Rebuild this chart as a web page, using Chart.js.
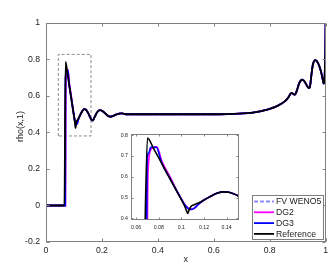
<!DOCTYPE html>
<html><head><meta charset="utf-8">
<script src="https://cdn.jsdelivr.net/npm/chart.js@4.4.1/dist/chart.umd.min.js"></script>
<style>
html,body{margin:0;padding:0;background:#fff;}
#wrap{position:relative;width:331px;height:267px;overflow:hidden;}
#main{position:absolute;left:0;top:0;}
#inset{position:absolute;left:106px;top:126px;}
</style></head><body>
<div id="wrap"><canvas id="main" width="331" height="267"></canvas><canvas id="inset" width="140" height="110"></canvas></div>
<script>
// ---- data ----
const seriesNames = ['FV WENO5', 'DG2', 'DG3', 'Reference'];
const xLeft = [0, 0.06];
const yLeft = [0, 0];
const refJumpX = [0.066, 0.070, 0.075, 0.080, 0.085, 0.090, 0.095, 0.100, 0.103, 0.1045, 0.1057, 0.1068, 0.1085, 0.1115, 0.115, 0.119];
const refJumpY = [0, 0.787, 0.741, 0.691, 0.640, 0.590, 0.540, 0.490, 0.459, 0.438, 0.424, 0.440, 0.457, 0.466, 0.474, 0.485];
const dg3JumpX = [0.0688, 0.0697, 0.0712, 0.0729, 0.0779, 0.0825, 0.090, 0.095, 0.100, 0.103, 0.106, 0.109, 0.112, 0.115, 0.119];
const dg3JumpY = [0, 0.69, 0.715, 0.742, 0.742, 0.668, 0.592, 0.542, 0.493, 0.466, 0.448, 0.443, 0.451, 0.468, 0.485];
const dg2JumpX = [0.0692, 0.0705, 0.0735, 0.0782, 0.0830, 0.091, 0.095, 0.100, 0.103, 0.106, 0.109, 0.112, 0.115, 0.119];
const dg2JumpY = [0, 0.625, 0.735, 0.745, 0.672, 0.590, 0.543, 0.494, 0.467, 0.449, 0.444, 0.452, 0.468, 0.485];
const fvJumpX = [0.0685, 0.0698, 0.0715, 0.0735, 0.078, 0.0825, 0.090, 0.095, 0.100, 0.103, 0.106, 0.109, 0.112, 0.115, 0.119];
const fvJumpY = [0, 0.66, 0.72, 0.738, 0.74, 0.668, 0.592, 0.542, 0.493, 0.466, 0.45, 0.446, 0.453, 0.468, 0.485];
const tailX = [0.123, 0.1278, 0.132, 0.137, 0.142, 0.147, 0.151, 0.156, 0.161, 0.165, 0.169, 0.175, 0.182, 0.188, 0.195, 0.203, 0.211, 0.22, 0.226, 0.232, 0.24, 0.2525, 0.262, 0.27, 0.28, 0.29, 0.32, 0.45, 0.6, 0.65, 0.69, 0.72, 0.74, 0.76, 0.78, 0.80, 0.82, 0.84, 0.855, 0.866, 0.872, 0.878, 0.884, 0.89, 0.897, 0.904, 0.911, 0.917, 0.923, 0.93, 0.936, 0.941, 0.945, 0.95, 0.955, 0.96, 0.964, 0.969, 0.976, 0.982, 0.988, 0.993, 0.997, 0.999, 1.0];
const tailY = [0.498, 0.512, 0.522, 0.528, 0.526, 0.517, 0.506, 0.490, 0.474, 0.466, 0.469, 0.488, 0.509, 0.52, 0.523, 0.516, 0.506, 0.493, 0.488, 0.487, 0.491, 0.499, 0.504, 0.505, 0.502, 0.5, 0.5, 0.5, 0.5, 0.501, 0.503, 0.506, 0.509, 0.514, 0.521, 0.53, 0.54, 0.556, 0.572, 0.59, 0.606, 0.617, 0.612, 0.607, 0.628, 0.664, 0.684, 0.69, 0.683, 0.666, 0.65, 0.643, 0.66, 0.725, 0.775, 0.793, 0.797, 0.79, 0.77, 0.742, 0.705, 0.668, 0.72, 0.85, 1.0];
const zoomBoxX = [0.044, 0.161];
const zoomBoxY = [0.381, 0.828];
const xTicksMain = [0, 0.2, 0.4, 0.6, 0.8, 1];
const yTicksMain = [-0.2, 0, 0.2, 0.4, 0.6, 0.8, 1];
const xTicksInset = [0.06, 0.08, 0.1, 0.12, 0.14];
const yTicksInset = [0.4, 0.5, 0.6, 0.7, 0.8];
const xTitle = 'x';
const yTitle = 'rho(x,1)';

// ---- build ----
function pts(jx, jy) {
  const a = xLeft.map((x, i) => ({x, y: yLeft[i]}));
  const b = jx.map((x, i) => ({x, y: jy[i]}));
  const c = tailX.map((x, i) => ({x, y: tailY[i]}));
  return a.concat(b, c);
}
const colors = {'FV WENO5': '#8c8cff', 'DG2': '#ff00ff', 'DG3': '#0000ff', 'Reference': '#000000'};
const dashes = {'FV WENO5': [4, 2], 'DG2': [], 'DG3': [], 'Reference': []};
const jumps = {'FV WENO5': [fvJumpX, fvJumpY], 'DG2': [dg2JumpX, dg2JumpY], 'DG3': [dg3JumpX, dg3JumpY], 'Reference': [refJumpX, refJumpY]};

function makeDatasets(w) {
  // first dataset is drawn on top in Chart.js, so list reversed
  return seriesNames.slice().reverse().map(n => ({
    label: n, data: pts(jumps[n][0], jumps[n][1]),
    borderColor: colors[n], borderDash: dashes[n], borderWidth: w,
    pointRadius: 0, fill: false, cubicInterpolationMode: 'monotone'
  }));
}

const FONT = 'Liberation Sans, Arial, Helvetica, sans-serif';
const frameTicks = {
  id: 'frameTicks',
  beforeDatasetsDraw(chart, args, o) {
    const {ctx, chartArea: a} = chart;
    ctx.save(); ctx.fillStyle = '#fff';
    ctx.fillRect(a.left, a.top, a.right - a.left, a.bottom - a.top);
    ctx.restore();
  },
  afterDatasetsDraw(chart, args, o) {
    const {ctx, chartArea: a, scales: {x, y}} = chart;
    ctx.save();
    ctx.strokeStyle = o.color; ctx.lineWidth = 1;
    const L = Math.round(a.left) + 0.5, R = Math.round(a.right) - 0.5;
    const T = Math.round(a.top) + 0.5, B = Math.round(a.bottom) - 0.5;
    ctx.strokeRect(L, T, R - L, B - T);
    ctx.beginPath();
    x.ticks.forEach(t => {
      const p = Math.round(x.getPixelForValue(t.value)) + 0.5;
      ctx.moveTo(p, B); ctx.lineTo(p, B - o.len);
      ctx.moveTo(p, T); ctx.lineTo(p, T + o.len);
    });
    y.ticks.forEach(t => {
      const p = Math.round(y.getPixelForValue(t.value)) + 0.5;
      ctx.moveTo(L, p); ctx.lineTo(L + o.len, p);
      ctx.moveTo(R, p); ctx.lineTo(R - o.len, p);
    });
    ctx.stroke();
    if (o.titles) {
      ctx.fillStyle = '#222';
      ctx.font = '9px ' + FONT;
      ctx.textAlign = 'center'; ctx.textBaseline = 'middle';
      ctx.fillText(xTitle, (a.left + a.right) / 2, a.bottom + 18);
      ctx.translate(21, (a.top + a.bottom) / 2 - 6);
      ctx.rotate(-Math.PI / 2);
      ctx.fillText(yTitle, 0, 0);
    }
    ctx.restore();
  }
};

const boxLegend = {
  id: 'boxLegend',
  afterDraw(chart, args, o) {
    if (!o.show) return;
    const {ctx, chartArea: a} = chart;
    const w = 71, h = 44;
    const bx = Math.round(a.right) - 3 - w, by = Math.round(a.bottom) - 3 - h;
    ctx.save();
    ctx.fillStyle = '#fff'; ctx.fillRect(bx, by, w, h);
    ctx.strokeStyle = '#7f7f7f'; ctx.lineWidth = 1;
    ctx.strokeRect(bx + 0.5, by + 0.5, w, h);
    ctx.font = '8.7px ' + FONT; ctx.textBaseline = 'middle'; ctx.fillStyle = '#222';
    seriesNames.forEach((n, i) => {
      const yy = by + 6.5 + i * 10.8;
      ctx.beginPath(); ctx.strokeStyle = colors[n]; ctx.lineWidth = 1.8;
      ctx.setLineDash(dashes[n]);
      ctx.moveTo(bx + 2, yy); ctx.lineTo(bx + 22, yy); ctx.stroke();
      ctx.setLineDash([]);
      ctx.fillText(n, bx + 24, yy + 0.5);
    });
    ctx.restore();
  }
};

Chart.register(frameTicks, boxLegend);

const mainDatasets = makeDatasets(1.8);
mainDatasets.push({
  label: '', data: [
    {x: zoomBoxX[0], y: zoomBoxY[0]}, {x: zoomBoxX[0], y: zoomBoxY[1]},
    {x: zoomBoxX[1], y: zoomBoxY[1]}, {x: zoomBoxX[1], y: zoomBoxY[0]},
    {x: zoomBoxX[0], y: zoomBoxY[0]}],
  borderColor: '#8a8a8a', borderWidth: 1, borderDash: [3, 2], pointRadius: 0, fill: false, tension: 0
});

new Chart(document.getElementById('main'), {
  type: 'line',
  data: {datasets: mainDatasets},
  options: {
    responsive: false, animation: false, devicePixelRatio: 1,
    layout: {padding: {left: 0, top: 23, right: 5, bottom: 0}},
    plugins: {legend: {display: false}, tooltip: {enabled: false},
      frameTicks: {color: '#808080', len: 3, titles: true}, boxLegend: {show: true}},
    scales: {
      x: {type: 'linear', min: 0, max: 1,
        afterBuildTicks: ax => { ax.ticks = xTicksMain.map(v => ({value: v})); },
        afterFit: ax => { ax.height = 25; },
        grid: {display: false, drawTicks: false}, border: {display: false},
        ticks: {padding: 3, color: '#222', font: {family: FONT, size: 8.7}, maxRotation: 0, callback: v => String(v)}},
      y: {type: 'linear', min: -0.2, max: 1,
        afterBuildTicks: ax => { ax.ticks = yTicksMain.map(v => ({value: v})); },
        afterFit: ax => { ax.width = 46; },
        grid: {display: false, drawTicks: false}, border: {display: false},
        ticks: {padding: 6, color: '#222', font: {family: FONT, size: 8.7}, callback: v => String(v)}}
    }
  }
});

new Chart(document.getElementById('inset'), {
  type: 'line',
  data: {datasets: makeDatasets(1.6)},
  options: {
    responsive: false, animation: false, devicePixelRatio: 1,
    layout: {padding: {left: 0, top: 8, right: 7, bottom: 0}},
    plugins: {legend: {display: false}, tooltip: {enabled: false},
      frameTicks: {color: '#808080', len: 2, titles: false}, boxLegend: {show: false}},
    scales: {
      x: {type: 'linear', min: 0.055, max: 0.151,
        afterBuildTicks: ax => { ax.ticks = xTicksInset.map(v => ({value: v})); },
        afterFit: ax => { ax.height = 16.5; },
        grid: {display: false, drawTicks: false}, border: {display: false},
        ticks: {padding: 4.5, color: '#222', font: {family: FONT, size: 5.2}, maxRotation: 0, callback: v => String(v)}},
      y: {type: 'linear', min: 0.395, max: 0.806,
        afterBuildTicks: ax => { ax.ticks = yTicksInset.map(v => ({value: v})); },
        afterFit: ax => { ax.width = 24.5; },
        grid: {display: false, drawTicks: false}, border: {display: false},
        ticks: {padding: 2.5, color: '#222', font: {family: FONT, size: 5.2}, callback: v => String(v)}}
    }
  }
});
</script>
</body></html>
